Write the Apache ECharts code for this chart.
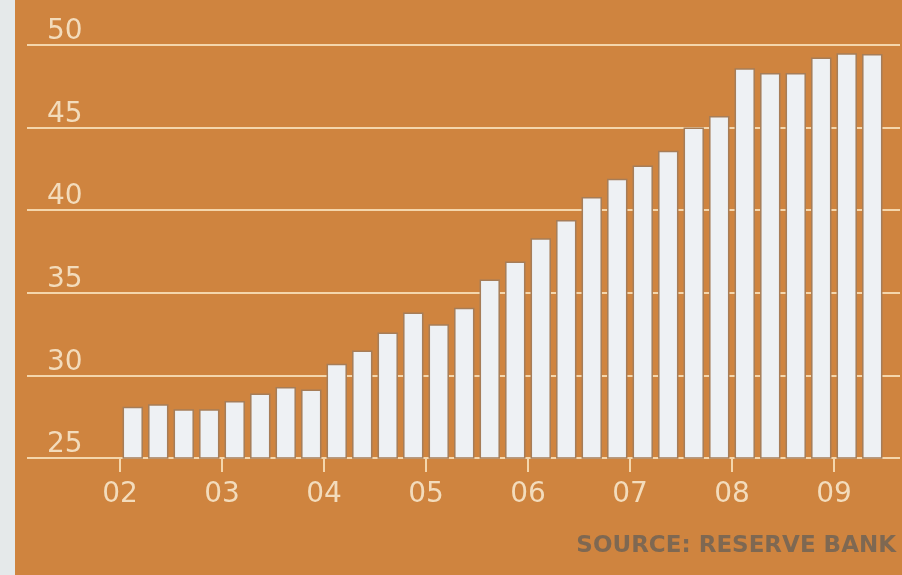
<!DOCTYPE html>
<html>
<head>
<meta charset="utf-8">
<script src="https://cdn.jsdelivr.net/npm/echarts@6/dist/echarts.min.js"></script>
<style>
  html, body { margin: 0; padding: 0; }
  #chart { width: 902px; height: 575px; }
</style>
</head>
<body>
<div id="chart"></div>
<script>
// 季度数据，2002 Q1 - 2009 Q2
const quarters = [
    '02Q1', '02Q2', '02Q3', '02Q4', '03Q1', '03Q2', '03Q3', '03Q4',
    '04Q1', '04Q2', '04Q3', '04Q4', '05Q1', '05Q2', '05Q3', '05Q4',
    '06Q1', '06Q2', '06Q3', '06Q4', '07Q1', '07Q2', '07Q3', '07Q4',
    '08Q1', '08Q2', '08Q3', '08Q4', '09Q1', '09Q2'
];
const values = [
    28.1, 28.25, 27.95, 27.95, 28.45, 28.9, 29.3, 29.15,
    30.7, 31.5, 32.6, 33.8, 33.1, 34.1, 35.8, 36.9,
    38.3, 39.4, 40.8, 41.9, 42.7, 43.6, 45.0, 45.7,
    48.6, 48.3, 48.3, 49.25, 49.5, 49.45
];
const yearLabels = ['02', '03', '04', '05', '06', '07', '08', '09'];
const yearTickPos = [0, 4, 8, 12, 16, 20, 24, 28];   // 每年第一季度的位置
const yMin = 25, yMax = 50, yStep = 5;

const cream = '#f4d6ac';
const labelColor = '#f3dcbc';
const fontFamily = 'DejaVu Sans';

const option = {
    backgroundColor: '#cf843f',
    animation: false,
    graphic: [
        {
            type: 'rect',
            left: 0, top: 0,
            shape: {width: 15, height: 575},
            style: {fill: '#e5e9ea'}
        },
        {
            type: 'text',
            right: 6, top: 535,
            style: {
                text: 'SOURCE: RESERVE BANK',
                fill: '#7e6852',
                font: 'bold 23px "DejaVu Sans"'
            }
        }
    ],
    grid: [
        // 网格线与纵轴标签
        {left: 27, right: 2, top: 45, bottom: 117},
        // 柱状图
        {left: 120, right: 17, top: 45, bottom: 117}
    ],
    xAxis: [
        {type: 'value', gridIndex: 0, min: 0, max: 1, show: false},
        {
            type: 'category', gridIndex: 1, data: quarters, position: 'top',
            axisLine: {show: false}, axisTick: {show: false}, axisLabel: {show: false}
        },
        {
            type: 'value', gridIndex: 1, min: 0, max: quarters.length, position: 'bottom',
            axisLine: {show: false},
            splitLine: {show: false},
            axisTick: {
                show: true, length: 14, customValues: yearTickPos,
                lineStyle: {color: cream, width: 2}
            },
            axisLabel: {
                customValues: yearTickPos,
                formatter: v => yearLabels[v / 4],
                color: labelColor, fontSize: 28, fontFamily: fontFamily, margin: 23
            }
        }
    ],
    yAxis: [
        {
            type: 'value', gridIndex: 0, min: yMin, max: yMax, interval: yStep,
            axisLine: {show: false}, axisTick: {show: false},
            splitLine: {lineStyle: {color: cream, width: 2}},
            axisLabel: {
                inside: true, margin: 20, verticalAlign: 'bottom', lineHeight: 26,
                color: labelColor, fontSize: 28, fontFamily: fontFamily
            }
        },
        {type: 'value', gridIndex: 1, min: yMin, max: yMax, show: false}
    ],
    series: [
        {
            type: 'bar',
            xAxisIndex: 1,
            yAxisIndex: 1,
            data: values,
            barCategoryGap: '20%',
            itemStyle: {color: '#eef1f4', borderColor: '#a67d58', borderWidth: 1.5}
        }
    ]
};

const chart = echarts.init(document.getElementById('chart'));
chart.setOption(option);
</script>
</body>
</html>
